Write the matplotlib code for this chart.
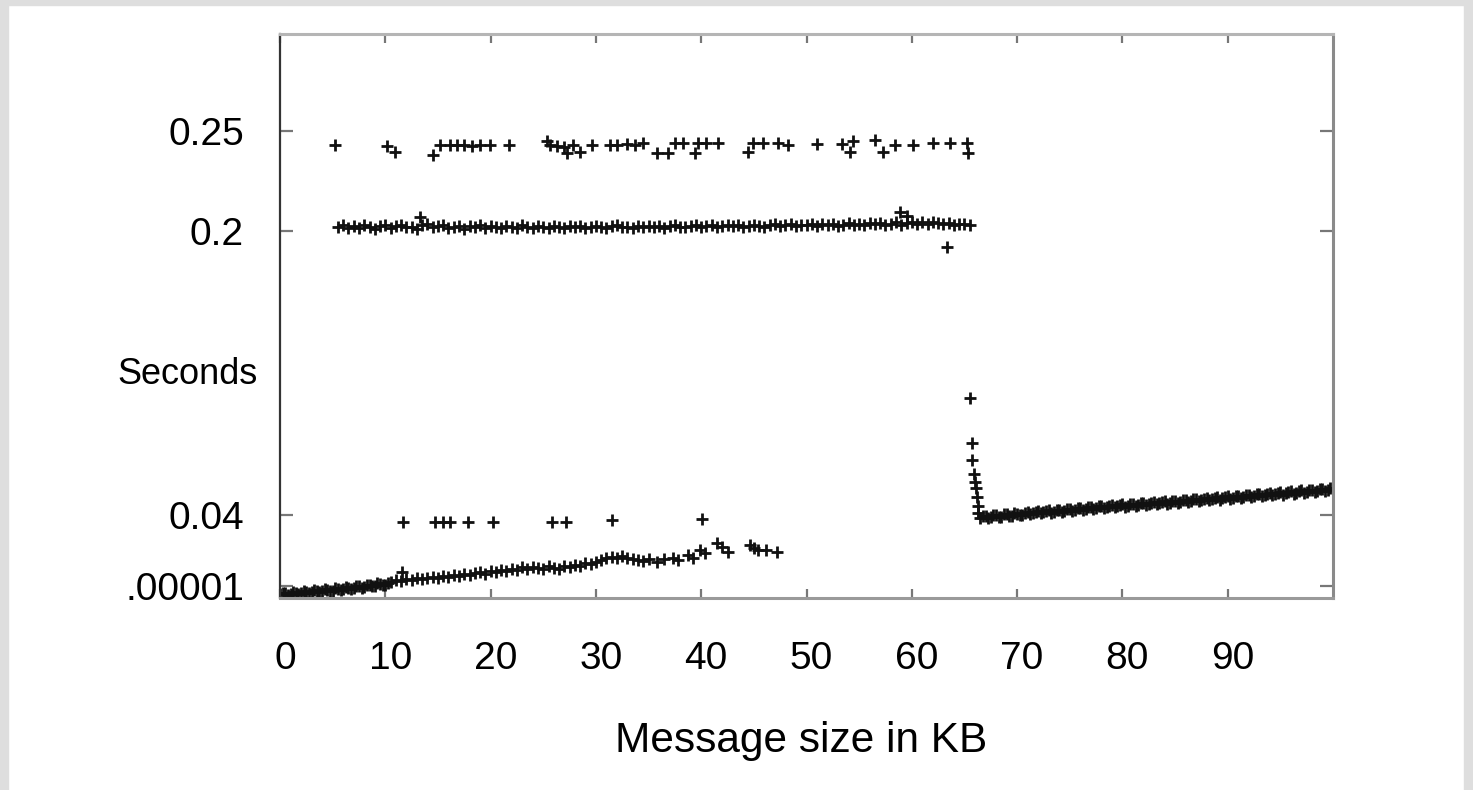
import numpy as np
import matplotlib
matplotlib.use("Agg")
import matplotlib.pyplot as plt
from matplotlib.patches import Rectangle
from matplotlib.transforms import ScaledTranslation

plt.rcParams['font.family'] = ['Liberation Sans', 'DejaVu Sans']

# ---- data (x in KB, y in seconds) ----
# upper band, ~0.25 s
top_kb = [5.2, 10.2, 10.9, 14.5, 15.2, 16.1, 16.8, 17.5, 18.2, 19.0, 19.9, 21.7,
          25.4, 25.6, 26.3, 27.0, 27.3, 27.8, 28.5, 29.6, 31.3, 32.0, 33.0, 33.7,
          34.5, 35.8, 36.8, 37.5, 38.3, 39.4, 39.7, 40.5, 41.6, 44.4, 44.9, 45.9,
          47.3, 48.2, 51.0, 53.4, 54.1, 54.4, 56.5, 57.3, 58.4, 60.1, 62.0, 63.6,
          65.2, 65.3]
top_sec = [0.2485, 0.2478, 0.2445, 0.2430, 0.2485, 0.2485, 0.2485, 0.2485, 0.2480, 0.2485,
           0.2485, 0.2485, 0.2508, 0.2485, 0.2480, 0.2475, 0.2440, 0.2485, 0.2445, 0.2485,
           0.2485, 0.2485, 0.2490, 0.2485, 0.2495, 0.2440, 0.2440, 0.2495, 0.2495, 0.2440,
           0.2495, 0.2495, 0.2495, 0.2445, 0.2495, 0.2495, 0.2495, 0.2485, 0.2490, 0.2490,
           0.2445, 0.2505, 0.2515, 0.2445, 0.2485, 0.2485, 0.2495, 0.2495, 0.2495, 0.2440]

# dense band at ~0.2 s, one reading every 0.5 KB from 5.5 to 65.5
band_kb = np.arange(5.5, 66.0, 0.5)
band_sec = [0.2022, 0.2031, 0.2015, 0.2028, 0.2019, 0.2034, 0.2021, 0.2012, 0.2027, 0.2033,
            0.2018, 0.2029, 0.2036, 0.2021, 0.2025, 0.2014, 0.2031, 0.2038, 0.2020, 0.2026,
            0.2033, 0.2017, 0.2024, 0.2030, 0.2013, 0.2027, 0.2022, 0.2035, 0.2019, 0.2026,
            0.2021, 0.2015, 0.2029, 0.2024, 0.2018, 0.2031, 0.2023, 0.2016, 0.2027, 0.2022,
            0.2019, 0.2028, 0.2024, 0.2017, 0.2030, 0.2022, 0.2026, 0.2018, 0.2025, 0.2029,
            0.2023, 0.2019, 0.2027, 0.2031, 0.2021, 0.2025, 0.2016, 0.2030, 0.2024, 0.2028,
            0.2022, 0.2029, 0.2018, 0.2026, 0.2033, 0.2024, 0.2020, 0.2028, 0.2031, 0.2025,
            0.2027, 0.2033, 0.2021, 0.2030, 0.2036, 0.2026, 0.2032, 0.2024, 0.2029, 0.2035,
            0.2030, 0.2024, 0.2034, 0.2038, 0.2027, 0.2032, 0.2041, 0.2029, 0.2035, 0.2031,
            0.2037, 0.2030, 0.2042, 0.2034, 0.2039, 0.2028, 0.2036, 0.2044, 0.2033, 0.2040,
            0.2035, 0.2043, 0.2038, 0.2047, 0.2032, 0.2041, 0.2049, 0.2036, 0.2045, 0.2052,
            0.2040, 0.2048, 0.2037, 0.2051, 0.2044, 0.2039, 0.2047, 0.2035, 0.2042, 0.2038,
            0.2036]
band_out_kb = [13.3, 58.9, 59.5, 63.3]
band_out_sec = [0.2079, 0.2107, 0.2085, 0.1910]

# isolated readings around 0.036 s
mid_kb = [11.7, 14.7, 15.5, 16.1, 17.9, 20.2, 25.8, 27.2, 31.5, 40.1]
mid_sec = [0.0360, 0.0360, 0.0360, 0.0360, 0.0358, 0.0360, 0.0360, 0.0360, 0.0372, 0.0378]

# lower branch, 0 to 35 KB every 0.5 KB
low_kb = np.arange(0.0, 35.5, 0.5)
low_sec = [-0.0048, -0.0042, -0.0046, -0.0038, -0.0041, -0.0033, -0.0036, -0.0027, -0.0031, -0.0022,
           -0.0026, -0.0016, -0.0020, -0.0009, -0.0013, -0.0003, -0.0007, 0.0004, 0.0000, 0.0012,
           0.0008, 0.0021, 0.0036, 0.0028, 0.0041, 0.0033, 0.0046, 0.0038, 0.0044, 0.0052,
           0.0047, 0.0055, 0.0050, 0.0061, 0.0056, 0.0066, 0.0060, 0.0072, 0.0078, 0.0070,
           0.0083, 0.0076, 0.0090, 0.0084, 0.0098, 0.0091, 0.0104, 0.0096, 0.0108, 0.0101,
           0.0095, 0.0110, 0.0103, 0.0098, 0.0114, 0.0106, 0.0120, 0.0112, 0.0128, 0.0121,
           0.0137, 0.0146, 0.0155, 0.0163, 0.0158, 0.0167, 0.0160, 0.0152, 0.0147, 0.0141,
           0.0149]
# second readings in the dark stretch 0 - 10 KB
low2_kb = np.arange(0.25, 10.5, 0.5)
low2_sec = [-0.0040, -0.0049, -0.0035, -0.0044, -0.0030, -0.0039, -0.0024, -0.0033, -0.0018, -0.0028,
            -0.0012, -0.0021, -0.0005, -0.0015, 0.0002, -0.0009, 0.0008, -0.0002, 0.0015, 0.0005,
            0.0019]
# sparse tail of the lower branch
tail_kb = [11.6, 35.8, 36.5, 37.3, 37.8, 38.7, 39.2, 39.9, 40.4, 41.5, 42.0, 42.5,
           44.6, 45.0, 45.4, 46.2, 47.2]
tail_sec = [0.0079, 0.0135, 0.0152, 0.0158, 0.0146, 0.0175, 0.0160, 0.0203, 0.0188, 0.0242,
            0.0220, 0.0192, 0.0231, 0.0215, 0.0203, 0.0200, 0.0192]

# drop just after 64 KB
spike_kb = [65.5, 65.7, 65.7, 65.9, 66.0, 66.1, 66.2, 66.3, 66.3]
spike_sec = [0.1059, 0.0806, 0.0710, 0.0631, 0.0586, 0.0552, 0.0501, 0.0451, 0.0411]

# right branch, 66.5 to 99.5 KB every 0.5 KB
right_kb = np.arange(66.5, 100.0, 0.5)
right_sec = [0.0384, 0.0392, 0.0387, 0.0398, 0.0391, 0.0403, 0.0396, 0.0408, 0.0401, 0.0415,
             0.0410, 0.0421, 0.0414, 0.0426, 0.0418, 0.0430, 0.0423, 0.0436, 0.0428, 0.0441,
             0.0435, 0.0447, 0.0440, 0.0452, 0.0444, 0.0455, 0.0448, 0.0459, 0.0452, 0.0463,
             0.0456, 0.0466, 0.0460, 0.0471, 0.0465, 0.0476, 0.0469, 0.0481, 0.0474, 0.0486,
             0.0479, 0.0490, 0.0483, 0.0495, 0.0488, 0.0499, 0.0493, 0.0504, 0.0497, 0.0509,
             0.0502, 0.0513, 0.0507, 0.0518, 0.0511, 0.0523, 0.0516, 0.0528, 0.0521, 0.0533,
             0.0526, 0.0538, 0.0531, 0.0543, 0.0537, 0.0549, 0.0542]
# second readings in between, 66.75 to 99.75 KB
right2_kb = np.arange(66.75, 100.0, 0.5)
right2_sec = [0.0395, 0.0383, 0.0399, 0.0389, 0.0404, 0.0392, 0.0409, 0.0398, 0.0413, 0.0404,
              0.0418, 0.0409, 0.0423, 0.0413, 0.0428, 0.0419, 0.0433, 0.0424, 0.0438, 0.0430,
              0.0443, 0.0434, 0.0449, 0.0439, 0.0453, 0.0443, 0.0458, 0.0447, 0.0462, 0.0451,
              0.0466, 0.0455, 0.0469, 0.0460, 0.0474, 0.0464, 0.0479, 0.0469, 0.0483, 0.0474,
              0.0488, 0.0478, 0.0492, 0.0483, 0.0497, 0.0487, 0.0502, 0.0492, 0.0506, 0.0497,
              0.0511, 0.0501, 0.0516, 0.0506, 0.0520, 0.0511, 0.0525, 0.0515, 0.0530, 0.0520,
              0.0535, 0.0525, 0.0540, 0.0530, 0.0545, 0.0536, 0.0550]

x_ticks = [0, 10, 20, 30, 40, 50, 60, 70, 80, 90]
y_ticks = [0.00001, 0.04, 0.2, 0.2563]
y_labels = ['.00001', '0.04', '0.2', '0.25']

# ---- figure ----
fig = plt.figure(figsize=(14.73, 7.90), dpi=100)
fig.patch.set_facecolor('white')
# grey scan border
fig.patches.append(Rectangle((0, 0), 8 / 1473, 1, transform=fig.transFigure,
                             color='#dedede', zorder=0))
fig.patches.append(Rectangle((0, 1 - 5 / 790), 1, 5 / 790, transform=fig.transFigure,
                             color='#dedede', zorder=0))
fig.patches.append(Rectangle((1 - 9 / 1473, 0), 9 / 1473, 1, transform=fig.transFigure,
                             color='#dedede', zorder=0))

ax = fig.add_axes([280 / 1473, 1 - 598 / 790, (1333 - 280) / 1473, (598 - 34) / 790])

mk = dict(linestyle='none', marker='+', color='#111111', ms=8.5, mew=2.0)
ax.plot(top_kb, top_sec, **mk)
ax.plot(band_kb, band_sec, **mk)
ax.plot(band_out_kb, band_out_sec, **mk)
ax.plot(mid_kb, mid_sec, **mk)
ax.plot(low_kb, low_sec, **mk)
ax.plot(low2_kb, low2_sec, **mk)
ax.plot(tail_kb, tail_sec, **mk)
ax.plot(spike_kb, spike_sec, **mk)
ax.plot(right_kb, right_sec, **mk)
ax.plot(right2_kb, right2_sec, **mk)

ax.set_xlim(0, 100)
ax.set_ylim(-0.0068, 0.311)

ax.set_xticks(x_ticks)
ax.set_xticklabels([str(t) for t in x_ticks])
ax.set_yticks(y_ticks)
ax.set_yticklabels(y_labels)

ax.tick_params(axis='x', direction='in', length=6.5, width=1.6, color='#777777',
               top=True, labelsize=28, pad=31)
ax.tick_params(axis='y', direction='in', length=9.5, width=1.6, color='#777777',
               right=True, labelsize=28, pad=26)
# labels in the scan sit a few pixels right of their ticks
shift = ScaledTranslation(5 / 100, 0, fig.dpi_scale_trans)
for lab in ax.get_xticklabels():
    lab.set_transform(lab.get_transform() + shift)

ax.spines['left'].set_color('#333333')
ax.spines['left'].set_linewidth(1.6)
ax.spines['top'].set_color('#b5b5b5')
ax.spines['top'].set_linewidth(2.2)
ax.spines['right'].set_color('#8a8a8a')
ax.spines['right'].set_linewidth(2.2)
ax.spines['bottom'].set_color('#9a9a9a')
ax.spines['bottom'].set_linewidth(2.2)

fig.text(117 / 1473, 1 - 384 / 790, 'Seconds', fontsize=26, ha='left', va='baseline')
fig.text(801 / 1473, 1 - 752 / 790, 'Message size in KB', fontsize=30.5,
         ha='center', va='baseline')

fig.savefig('out.png', dpi=100)
